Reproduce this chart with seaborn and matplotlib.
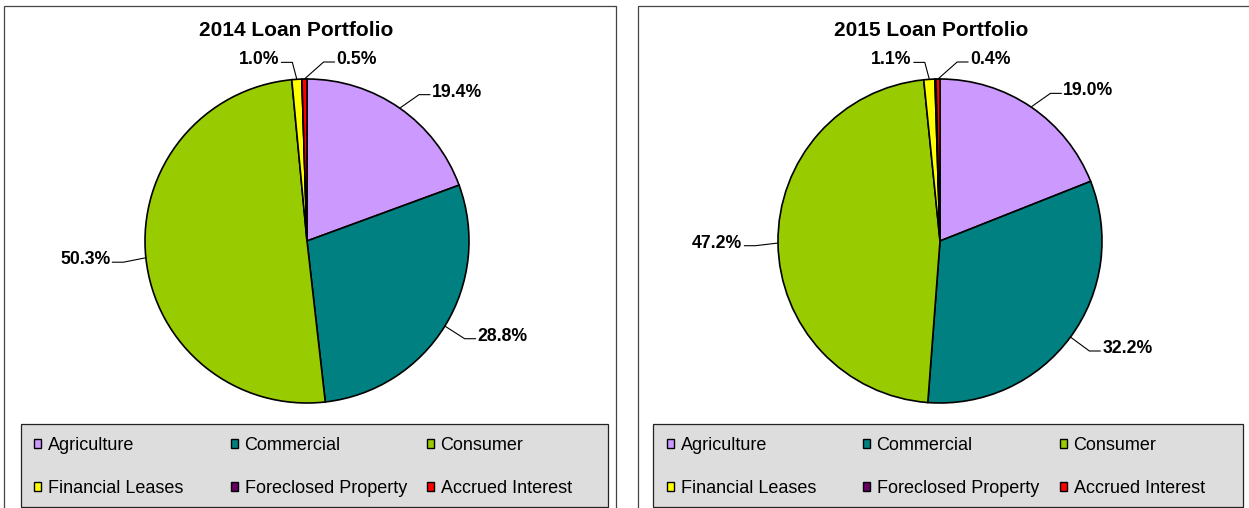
import numpy as np
import matplotlib
matplotlib.use("Agg")
import matplotlib.pyplot as plt
import seaborn as sns
from matplotlib.patches import Rectangle, Patch

# Dane: struktura portfela kredytowego (%)
categories = ['Agriculture', 'Commercial', 'Consumer',
              'Financial Leases', 'Foreclosed Property', 'Accrued Interest']
share_2014 = [19.4, 28.8, 50.3, 1.0, 0.0, 0.5]
share_2015 = [19.0, 32.2, 47.2, 1.1, 0.1, 0.4]
titles = ['2014 Loan Portfolio', '2015 Loan Portfolio']

colors = ['#CC99FF', '#008080', '#99CC00', '#FFFF00', '#660066', '#FF0000']

sns.set_style("white")
plt.rcParams['font.family'] = ['Liberation Sans', 'DejaVu Sans']
plt.rcParams['text.color'] = 'black'

W, H = 1249, 508
fig = plt.figure(figsize=(W / 100, H / 100), dpi=100)


def fx(x):
    return x / W


def fy(y):
    return 1 - y / H


def pie_panel(values, title, px0, px1, cx, title_x, legend_x0, legend_x1, col_x):
    # ramka panelu
    fig.add_artist(Rectangle((fx(px0), fy(530)), (px1 - px0) / W, (530 - 6) / H,
                             transform=fig.transFigure, fill=False,
                             edgecolor='#444444', lw=0.9, zorder=0))
    # tło legendy
    fig.add_artist(Rectangle((fx(legend_x0), fy(507)), (legend_x1 - legend_x0) / W, (507 - 424) / H,
                             transform=fig.transFigure, facecolor='#DDDDDD',
                             edgecolor='#222222', lw=0.9, zorder=1))
    fig.text(fx(title_x), fy(30), title, ha='center', va='center',
             fontsize=15, fontweight='bold', color='black')

    R = 162
    cy = 241
    ax = fig.add_axes([fx(cx - 1.6 * R), fy(cy + 1.3 * R), 3.2 * R / W, 2.6 * R / H])
    wedges, _ = ax.pie(values, colors=colors, startangle=90, counterclock=False,
                       radius=1, wedgeprops=dict(edgecolor='black', linewidth=1.2))
    ax.set_xlim(-1.6, 1.6)
    ax.set_ylim(-1.3, 1.3)
    ax.set_aspect('equal')
    ax.axis('off')

    # etykiety procentowe z liniami odniesienia
    for w, v in zip(wedges, values):
        if v < 0.2:
            continue
        ang = np.deg2rad((w.theta1 + w.theta2) / 2)
        c, s = np.cos(ang), np.sin(ang)
        side = 1 if c > -0.04 else -1
        shift = 0.1 + (0.1 * max(s, 0) ** 6 if side > 0 else 0)
        tx = 1.12 * c + side * shift
        ty = 1.12 * s
        ex = tx - side * 0.08
        ax.plot([c, ex, tx - side * 0.012], [s, ty - 0.015, ty - 0.015],
                color='black', lw=0.8, solid_joinstyle='miter', clip_on=False)
        ax.text(tx, ty, f"{v:.1f}%", ha='left' if side > 0 else 'right', va='center',
                fontsize=12.7, fontweight='bold', color='black')

    handles = [Patch(facecolor=col, edgecolor='black', linewidth=1.0) for col in colors]
    for j in range(3):
        fig.legend([handles[j], handles[j + 3]], [categories[j], categories[j + 3]],
                   loc='center left', bbox_to_anchor=(fx(col_x[j]), fy(467)),
                   frameon=False, fontsize=13, handlelength=0.4, handleheight=0.4,
                   handletextpad=0.35, labelspacing=1.4, borderpad=0, borderaxespad=0,
                   labelcolor='black')


pie_panel(share_2014, titles[0], 4, 616, 307, 296.5, 21, 608, [34, 231, 427])
pie_panel(share_2015, titles[1], 638, 1260, 940, 931, 653, 1243, [667, 863, 1060])

fig.savefig('out.png', dpi=100)
